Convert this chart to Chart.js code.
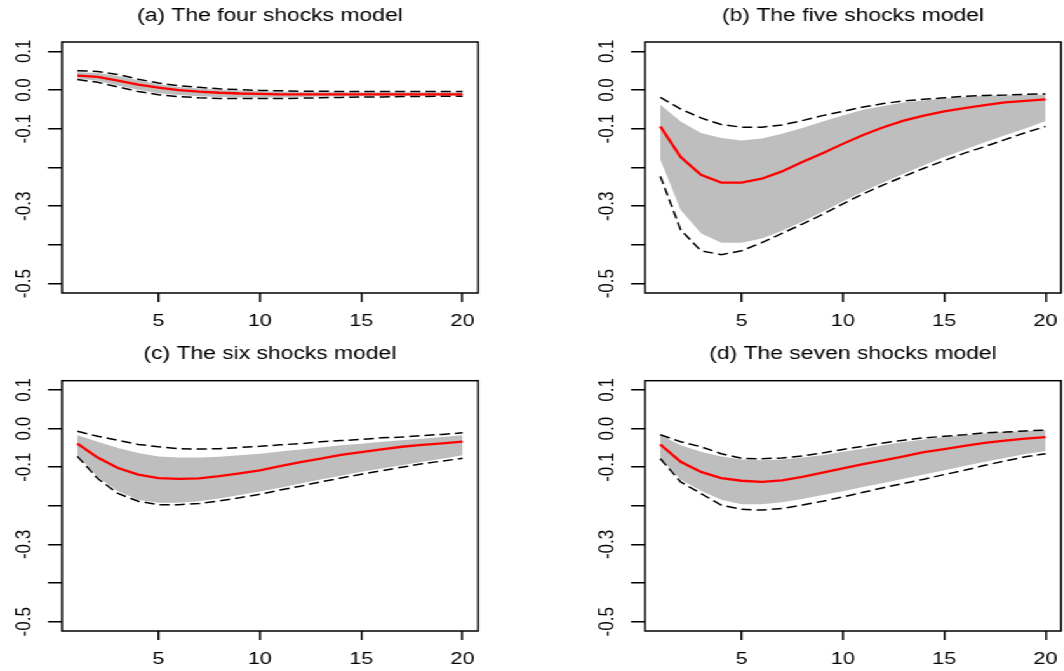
<!DOCTYPE html>
<html>
<head>
<meta charset="utf-8">
<script src="https://cdn.jsdelivr.net/npm/chart.js@4.4.1/dist/chart.umd.min.js"></script>
<style>
  html, body { margin: 0; padding: 0; background: #fff; overflow: hidden; }
  /* panels are laid out on a narrower sheet and widened as a whole */
  #sheet { position: absolute; left: 0; top: 0; width: 838px; height: 671px;
           transform: scaleX(1.27); transform-origin: 0 0; }
  #sheet canvas { position: absolute; }
</style>
</head>
<body>
<div id="sheet"></div>
<script>
// impulse horizons and axis ticks
const horizons = [1, 2, 3, 4, 5, 6, 7, 8, 9, 10, 11, 12, 13, 14, 15, 16, 17, 18, 19, 20];
const xTicks = [5, 10, 15, 20];
const yTicks = [0.1, 0.0, -0.1, -0.2, -0.3, -0.4, -0.5];
const yLabelled = [0.1, 0.0, -0.1, -0.3, -0.5];

// (a) four shocks
const medA    = [0.037, 0.034, 0.024, 0.014, 0.006, 0.000, -0.004, -0.007, -0.009, -0.010, -0.011, -0.011, -0.011, -0.011, -0.011, -0.011, -0.011, -0.011, -0.011, -0.011];
const bandHiA = [0.046, 0.044, 0.036, 0.025, 0.015, 0.008, 0.004, 0.001, -0.001, -0.003, -0.004, -0.005, -0.005, -0.006, -0.006, -0.006, -0.006, -0.006, -0.006, -0.006];
const bandLoA = [0.030, 0.024, 0.012, 0.001, -0.008, -0.013, -0.016, -0.018, -0.019, -0.019, -0.019, -0.018, -0.017, -0.016, -0.016, -0.015, -0.015, -0.015, -0.014, -0.014];
const hiA     = [0.050, 0.048, 0.040, 0.028, 0.018, 0.011, 0.007, 0.003, 0.001, -0.001, -0.002, -0.003, -0.003, -0.004, -0.004, -0.004, -0.004, -0.004, -0.004, -0.004];
const loA     = [0.027, 0.020, 0.008, -0.004, -0.012, -0.017, -0.020, -0.022, -0.022, -0.022, -0.022, -0.021, -0.020, -0.019, -0.018, -0.018, -0.017, -0.017, -0.016, -0.016];

// (b) five shocks
const medB    = [-0.094, -0.173, -0.219, -0.239, -0.239, -0.229, -0.210, -0.186, -0.163, -0.139, -0.116, -0.096, -0.079, -0.066, -0.055, -0.047, -0.039, -0.032, -0.028, -0.024];
const bandHiB = [-0.038, -0.081, -0.111, -0.124, -0.130, -0.125, -0.113, -0.098, -0.081, -0.066, -0.051, -0.041, -0.032, -0.027, -0.022, -0.018, -0.015, -0.014, -0.013, -0.012];
const bandLoB = [-0.180, -0.310, -0.370, -0.394, -0.394, -0.383, -0.363, -0.340, -0.314, -0.288, -0.262, -0.239, -0.216, -0.194, -0.173, -0.154, -0.135, -0.117, -0.099, -0.080];
const hiB     = [-0.019, -0.049, -0.072, -0.089, -0.096, -0.096, -0.090, -0.079, -0.066, -0.055, -0.044, -0.035, -0.028, -0.024, -0.020, -0.016, -0.014, -0.013, -0.011, -0.010];
const loB     = [-0.223, -0.361, -0.415, -0.425, -0.415, -0.394, -0.370, -0.346, -0.321, -0.294, -0.268, -0.245, -0.223, -0.202, -0.182, -0.163, -0.146, -0.128, -0.110, -0.094];

// (c) six shocks
const medC    = [-0.039, -0.075, -0.102, -0.119, -0.128, -0.130, -0.129, -0.123, -0.116, -0.108, -0.097, -0.087, -0.078, -0.068, -0.061, -0.054, -0.047, -0.042, -0.038, -0.034];
const bandHiC = [-0.017, -0.034, -0.050, -0.063, -0.072, -0.075, -0.075, -0.073, -0.069, -0.065, -0.059, -0.054, -0.049, -0.043, -0.039, -0.034, -0.030, -0.026, -0.022, -0.017];
const bandLoC = [-0.069, -0.125, -0.162, -0.184, -0.192, -0.192, -0.188, -0.181, -0.172, -0.163, -0.153, -0.142, -0.132, -0.122, -0.112, -0.103, -0.095, -0.086, -0.078, -0.069];
const hiC     = [-0.007, -0.020, -0.030, -0.041, -0.047, -0.052, -0.053, -0.052, -0.049, -0.046, -0.042, -0.039, -0.034, -0.031, -0.028, -0.024, -0.022, -0.018, -0.015, -0.011];
const loC     = [-0.072, -0.129, -0.168, -0.188, -0.197, -0.197, -0.194, -0.187, -0.179, -0.170, -0.159, -0.149, -0.138, -0.128, -0.118, -0.109, -0.100, -0.091, -0.084, -0.077];

// (d) seven shocks
const medD    = [-0.041, -0.086, -0.112, -0.128, -0.135, -0.138, -0.134, -0.125, -0.114, -0.103, -0.092, -0.082, -0.072, -0.061, -0.053, -0.045, -0.037, -0.031, -0.026, -0.022];
const bandHiD = [-0.017, -0.043, -0.060, -0.072, -0.080, -0.082, -0.080, -0.075, -0.069, -0.060, -0.052, -0.043, -0.035, -0.028, -0.022, -0.017, -0.013, -0.009, -0.007, -0.005];
const bandLoD = [-0.078, -0.132, -0.161, -0.184, -0.196, -0.196, -0.191, -0.182, -0.172, -0.162, -0.151, -0.141, -0.130, -0.119, -0.108, -0.097, -0.086, -0.076, -0.066, -0.058];
const hiD     = [-0.016, -0.034, -0.047, -0.065, -0.077, -0.078, -0.076, -0.071, -0.063, -0.054, -0.046, -0.037, -0.030, -0.024, -0.020, -0.016, -0.011, -0.009, -0.006, -0.004];
const loD     = [-0.078, -0.138, -0.168, -0.198, -0.209, -0.211, -0.207, -0.198, -0.188, -0.177, -0.165, -0.153, -0.142, -0.131, -0.119, -0.108, -0.095, -0.084, -0.073, -0.065];

Chart.defaults.font.family = "'Liberation Sans', Arial, Helvetica, sans-serif";
Chart.defaults.color = '#000';

// closed frame around the plotting region
const plotBox = {
  id: 'plotBox',
  afterDraw(chart) {
    const { ctx, chartArea: a } = chart;
    ctx.save();
    ctx.strokeStyle = '#000';
    ctx.lineWidth = 1.5;
    ctx.strokeRect(a.left, a.top, a.right - a.left, a.bottom - a.top);
    ctx.restore();
  }
};

const toPoints = (ys) => ys.map((y, i) => ({ x: horizons[i], y: y }));

function drawPanel(p) {
  const canvas = document.createElement('canvas');
  canvas.width = p.w;
  canvas.height = p.h;
  canvas.style.left = p.left + 'px';
  canvas.style.top = p.top + 'px';
  document.getElementById('sheet').appendChild(canvas);

  const dashed = { borderColor: '#000', borderWidth: 1.5, borderDash: [8, 4], fill: false };

  new Chart(canvas, {
    type: 'line',
    data: {
      datasets: [
        { data: toPoints(p.med), borderColor: '#ff0000', borderWidth: 2.3, fill: false },
        { data: toPoints(p.hi), ...dashed },
        { data: toPoints(p.lo), ...dashed },
        { data: toPoints(p.bandHi), borderColor: 'rgba(0,0,0,0)', borderWidth: 0,
          fill: '+1', backgroundColor: '#bebebe' },
        { data: toPoints(p.bandLo), borderColor: 'rgba(0,0,0,0)', borderWidth: 0, fill: false }
      ]
    },
    options: {
      responsive: false,
      animation: false,
      events: [],
      elements: { point: { radius: 0 }, line: { tension: 0 } },
      layout: { padding: { left: p.padL, right: p.padR, top: 0, bottom: 0 } },
      plugins: {
        legend: { display: false },
        tooltip: { enabled: false },
        title: {
          display: true,
          text: p.title,
          fullSize: false,
          color: '#000',
          font: { size: 18, weight: 'normal' },
          padding: { top: p.titleTop, bottom: p.titleBottom }
        }
      },
      scales: {
        x: {
          type: 'linear',
          min: 0.24,
          max: 20.76,
          afterBuildTicks: (s) => { s.ticks = xTicks.map(v => ({ value: v })); },
          // fixed axis height; labels may overhang the plot edge without shrinking it
          afterFit: (s) => { s.height = p.xAxisH; s.paddingLeft = 0; s.paddingRight = 0; },
          border: { display: false },
          grid: { drawOnChartArea: false, drawTicks: true, tickLength: 9, color: '#000', lineWidth: 1.5 },
          ticks: { autoSkip: false, maxRotation: 0, padding: 9, font: { size: 17 },
                   callback: (v) => String(v) }
        },
        y: {
          min: -0.524,
          max: 0.124,
          afterBuildTicks: (s) => { s.ticks = yTicks.map(v => ({ value: v })); },
          afterFit: (s) => { s.width = 48.82; s.paddingTop = 0; s.paddingBottom = 0; },
          border: { display: false },
          grid: { drawOnChartArea: false, drawTicks: true, tickLength: 11, color: '#000', lineWidth: 1.5 },
          ticks: { autoSkip: false, minRotation: 90, maxRotation: 90, crossAlign: 'center',
                   padding: 4, font: { size: 17 },
                   callback: (v) => yLabelled.some(t => Math.abs(t - v) < 1e-9) ? v.toFixed(1) : '' }
        }
      }
    },
    plugins: [plotBox]
  });
}

[
  { title: '(a) The four shocks model', med: medA, hi: hiA, lo: loA, bandHi: bandHiA, bandLo: bandLoA,
    left: 0, top: 0, w: 419, h: 335, padL: 0, padR: 42.62, titleTop: 5.2, titleBottom: 15.2, xAxisH: 42 },
  { title: '(b) The five shocks model', med: medB, hi: hiB, lo: loB, bandHi: bandHiB, bandLo: bandLoB,
    left: 419, top: 0, w: 419, h: 335, padL: 40.05, padR: 2.57, titleTop: 5.2, titleBottom: 15.2, xAxisH: 42 },
  { title: '(c) The six shocks model', med: medC, hi: hiC, lo: loC, bandHi: bandHiC, bandLo: bandLoC,
    left: 0, top: 335, w: 419, h: 336, padL: 0, padR: 42.62, titleTop: 8.7, titleBottom: 15.4, xAxisH: 40 },
  { title: '(d) The seven shocks model', med: medD, hi: hiD, lo: loD, bandHi: bandHiD, bandLo: bandLoD,
    left: 419, top: 335, w: 419, h: 336, padL: 40.05, padR: 2.57, titleTop: 8.7, titleBottom: 15.4, xAxisH: 40 }
].forEach(drawPanel);
</script>
</body>
</html>
